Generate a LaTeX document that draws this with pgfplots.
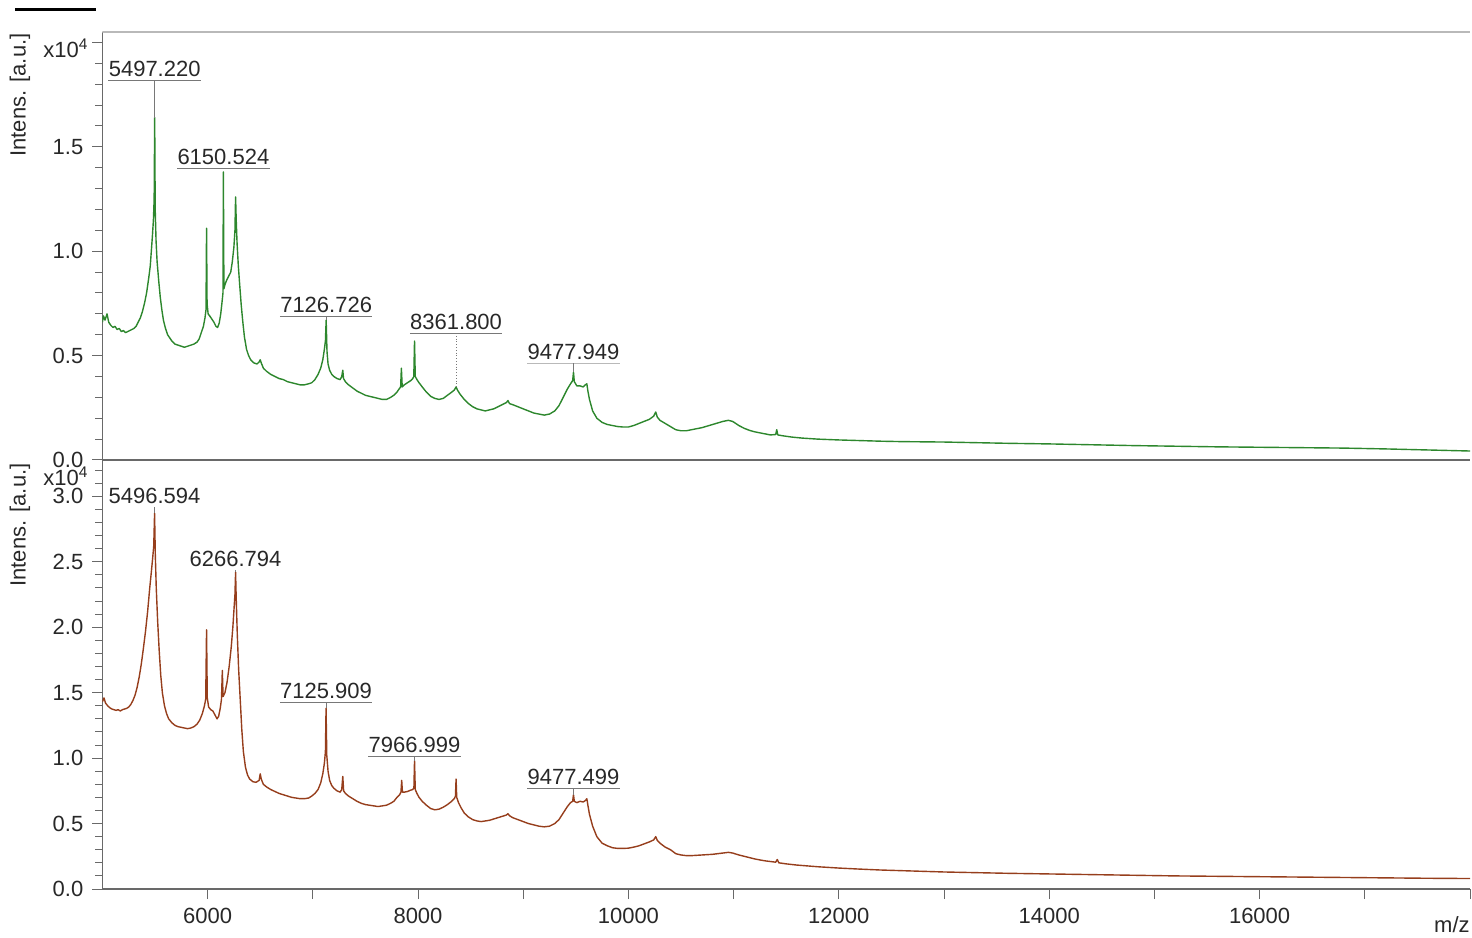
\documentclass[border=0pt]{standalone}
\usepackage{pgfplots}
\pgfplotsset{compat=1.18}
\usepackage{fontspec}
\setmainfont{Liberation Sans}

\definecolor{specgreen}{RGB}{45,135,45}
\definecolor{specbrown}{RGB}{150,62,28}
\definecolor{axisgrey}{RGB}{105,105,105}
\definecolor{framegrey}{RGB}{185,185,185}
\definecolor{leadgrey}{RGB}{120,120,120}
\definecolor{txt}{RGB}{40,40,40}
\newcommand\lbl{\fontsize{11}{13}\selectfont}

% spectrum of the first sample (intensity in units of 10^4)
\pgfplotstableread{
mz intens
5000 0.66
5010 0.69
5025 0.67
5044 0.70
5060 0.66
5080 0.645
5100 0.635
5120 0.64
5140 0.625
5160 0.63
5180 0.615
5200 0.62
5220 0.61
5240 0.615
5260 0.62
5280 0.625
5300 0.63
5320 0.64
5340 0.66
5360 0.68
5380 0.71
5400 0.75
5420 0.80
5440 0.87
5455 0.93
5465 1.00
5475 1.07
5485 1.15
5492 1.25
5497 1.64
5502 1.20
5510 1.05
5520 0.95
5535 0.86
5550 0.78
5565 0.72
5580 0.67
5600 0.63
5620 0.60
5640 0.585
5660 0.57
5690 0.555
5720 0.55
5750 0.545
5780 0.54
5810 0.545
5840 0.55
5870 0.555
5900 0.565
5920 0.58
5940 0.61
5960 0.64
5975 0.68
5985 0.72
5990 1.11
5995 0.75
6005 0.70
6020 0.69
6040 0.675
6060 0.66
6080 0.64
6095 0.635
6110 0.655
6125 0.70
6138 0.76
6146 0.80
6150 1.38
6155 0.82
6165 0.84
6180 0.86
6200 0.88
6220 0.90
6235 0.95
6250 1.02
6260 1.10
6266 1.26
6272 1.15
6280 1.04
6292 0.93
6305 0.84
6320 0.74
6335 0.66
6350 0.59
6370 0.53
6390 0.50
6410 0.48
6440 0.465
6470 0.46
6490 0.47
6500 0.48
6510 0.465
6530 0.44
6560 0.425
6600 0.41
6640 0.40
6680 0.39
6720 0.385
6760 0.375
6800 0.37
6840 0.365
6880 0.36
6920 0.36
6960 0.365
6990 0.37
7020 0.385
7050 0.41
7075 0.44
7095 0.48
7110 0.53
7120 0.57
7127 0.67
7135 0.52
7145 0.46
7160 0.43
7180 0.41
7200 0.40
7230 0.39
7260 0.385
7275 0.40
7285 0.43
7292 0.39
7310 0.375
7340 0.36
7380 0.345
7420 0.33
7460 0.32
7500 0.31
7540 0.305
7580 0.30
7620 0.295
7660 0.29
7700 0.29
7740 0.30
7770 0.31
7800 0.325
7820 0.34
7835 0.35
7842 0.44
7850 0.35
7870 0.36
7900 0.37
7930 0.38
7950 0.39
7960 0.40
7967 0.57
7974 0.40
7990 0.385
8010 0.37
8040 0.35
8080 0.325
8120 0.305
8160 0.295
8200 0.29
8240 0.295
8280 0.31
8320 0.325
8345 0.335
8362 0.35
8375 0.335
8400 0.315
8440 0.29
8480 0.27
8520 0.255
8560 0.245
8600 0.24
8640 0.235
8680 0.24
8720 0.245
8760 0.255
8800 0.265
8840 0.275
8855 0.285
8870 0.27
8900 0.265
8950 0.255
9000 0.245
9050 0.235
9100 0.225
9150 0.22
9200 0.215
9250 0.22
9300 0.235
9340 0.26
9380 0.30
9420 0.34
9450 0.365
9470 0.38
9478 0.42
9486 0.375
9510 0.355
9540 0.355
9570 0.35
9590 0.36
9605 0.365
9615 0.33
9630 0.29
9660 0.235
9700 0.20
9750 0.18
9800 0.17
9850 0.165
9900 0.16
9950 0.158
10000 0.158
10050 0.165
10100 0.175
10150 0.185
10200 0.195
10240 0.21
10260 0.23
10275 0.205
10300 0.19
10350 0.175
10400 0.16
10450 0.145
10500 0.14
10550 0.14
10600 0.145
10700 0.155
10800 0.17
10900 0.185
10950 0.19
10990 0.185
11050 0.165
11100 0.152
11150 0.142
11200 0.135
11250 0.13
11300 0.125
11350 0.12
11400 0.122
11410 0.145
11420 0.12
11480 0.115
11550 0.11
11650 0.105
11800 0.10
12000 0.096
12200 0.093
12400 0.09
12600 0.088
12800 0.087
13000 0.086
13300 0.083
13600 0.08
14000 0.077
14400 0.073
14800 0.069
15200 0.066
15600 0.063
16000 0.061
16400 0.059
16800 0.057
17200 0.053
17600 0.048
18000 0.043
}\specA

% spectrum of the second sample (intensity in units of 10^4)
\pgfplotstableread{
mz intens
5000 1.43
5015 1.46
5030 1.42
5050 1.40
5070 1.385
5090 1.375
5110 1.37
5130 1.365
5150 1.37
5170 1.36
5190 1.37
5210 1.375
5230 1.38
5250 1.39
5270 1.41
5290 1.44
5310 1.48
5330 1.54
5350 1.62
5370 1.72
5390 1.84
5410 1.97
5430 2.12
5450 2.30
5465 2.42
5478 2.53
5488 2.62
5496 2.87
5503 2.55
5512 2.30
5525 2.05
5540 1.82
5555 1.63
5570 1.50
5590 1.40
5610 1.34
5630 1.30
5660 1.27
5690 1.25
5720 1.24
5750 1.235
5780 1.23
5810 1.225
5840 1.23
5870 1.24
5900 1.26
5925 1.29
5950 1.34
5970 1.40
5982 1.45
5990 1.98
5997 1.46
6010 1.39
6030 1.37
6050 1.36
6070 1.33
6090 1.30
6105 1.32
6120 1.38
6132 1.45
6140 1.67
6147 1.47
6165 1.50
6185 1.58
6205 1.70
6225 1.85
6240 2.00
6252 2.15
6260 2.25
6266 2.42
6272 2.22
6282 1.95
6295 1.68
6310 1.45
6325 1.22
6340 1.05
6360 0.93
6380 0.87
6400 0.84
6430 0.82
6460 0.815
6490 0.83
6500 0.88
6510 0.84
6530 0.80
6560 0.78
6600 0.76
6640 0.745
6680 0.73
6720 0.72
6760 0.71
6800 0.70
6840 0.695
6880 0.69
6920 0.69
6960 0.695
6990 0.71
7020 0.73
7050 0.76
7075 0.81
7095 0.88
7110 0.96
7120 1.05
7126 1.38
7133 1.02
7145 0.90
7160 0.83
7180 0.79
7200 0.77
7230 0.75
7260 0.74
7275 0.76
7285 0.86
7293 0.75
7310 0.73
7340 0.71
7380 0.69
7420 0.67
7460 0.655
7500 0.645
7540 0.64
7580 0.635
7620 0.63
7660 0.635
7700 0.64
7740 0.655
7770 0.67
7800 0.70
7825 0.72
7838 0.74
7845 0.83
7852 0.74
7870 0.74
7900 0.745
7930 0.755
7950 0.76
7961 0.77
7967 0.98
7974 0.76
7990 0.73
8010 0.70
8040 0.67
8080 0.64
8120 0.615
8160 0.605
8200 0.61
8240 0.625
8280 0.645
8320 0.67
8345 0.69
8356 0.71
8362 0.84
8368 0.70
8385 0.66
8410 0.62
8440 0.58
8480 0.55
8520 0.53
8560 0.52
8600 0.515
8640 0.52
8680 0.525
8720 0.535
8760 0.545
8800 0.555
8840 0.565
8855 0.575
8870 0.56
8900 0.545
8950 0.53
9000 0.515
9050 0.50
9100 0.49
9150 0.48
9200 0.475
9250 0.48
9300 0.50
9340 0.53
9380 0.58
9420 0.63
9450 0.66
9470 0.67
9478 0.72
9486 0.67
9510 0.66
9540 0.67
9570 0.665
9590 0.675
9605 0.69
9615 0.64
9630 0.57
9660 0.48
9700 0.40
9750 0.35
9800 0.33
9850 0.315
9900 0.31
9950 0.31
10000 0.312
10050 0.32
10100 0.33
10150 0.345
10200 0.36
10240 0.375
10260 0.40
10275 0.37
10300 0.35
10350 0.32
10400 0.30
10450 0.27
10500 0.26
10550 0.255
10600 0.255
10700 0.26
10800 0.265
10900 0.275
10950 0.28
10990 0.275
11050 0.26
11100 0.25
11150 0.24
11200 0.23
11250 0.222
11300 0.215
11350 0.21
11400 0.205
11415 0.225
11430 0.2
11500 0.192
11600 0.183
11800 0.17
12000 0.16
12200 0.152
12400 0.145
12600 0.14
12800 0.135
13000 0.13
13300 0.125
13600 0.12
14000 0.115
14400 0.11
14800 0.105
15200 0.10
15600 0.097
16000 0.094
16400 0.091
16800 0.088
17200 0.085
17600 0.082
18000 0.08
}\specB

\pgfplotsset{
  panel/.style={
    scale only axis,
    width=683.8pt, height=214pt,
    xmin=5000, xmax=18000, ymin=0,
    separate axis lines,
    axis x line*=bottom, axis y line*=left,
    axis line style={axisgrey, line width=0.6pt},
    tick align=outside,
    major tick length=5pt, minor tick length=3.5pt,
    tick style={axisgrey, line width=0.5pt},
    every tick label/.append style={font=\lbl, text=txt},
    yticklabel style={xshift=-1pt},
  },
}
\tikzset{
  peaklabel/.style={anchor=south, inner xsep=0pt, inner ysep=1.6pt, font=\lbl, text=txt},
}

\begin{document}
\begin{tikzpicture}
\useasboundingbox (0,0) rectangle (736pt,468.5pt);
\draw[black, line width=1.5pt] (7.5pt,463.5pt) -- (48pt,463.5pt);

% upper panel
\begin{axis}[panel, at={(51.2pt,238.5pt)}, anchor=south west,
  ymax=2.05,
  xtick=\empty,
  x axis line style={axisgrey, line width=1.1pt},
  ytick={0,0.5,1,1.5,2}, yticklabels={0.0,0.5,1.0,1.5,},
  minor ytick={0.1,0.2,...,2.01},
]
\addplot[specgreen, line width=0.7pt, line join=round] table[x=mz, y=intens] {\specA};
\draw[framegrey, line width=1pt] (rel axis cs:0,1) -- (rel axis cs:1,1);
% peak annotations
\node[peaklabel] (p1) at (axis cs:5497,1.818) {5497.220};
\draw[leadgrey, line width=0.4pt] (p1.south west) -- (p1.south east);
\draw[leadgrey, line width=0.4pt] (axis cs:5497,1.818) -- (axis cs:5497,1.64);
\node[peaklabel] (p2) at (axis cs:6150,1.397) {6150.524};
\draw[leadgrey, line width=0.4pt] (p2.south west) -- (p2.south east);
\node[peaklabel] (p3) at (axis cs:7127,0.689) {7126.726};
\draw[leadgrey, line width=0.4pt] (p3.south west) -- (p3.south east);
\draw[leadgrey, line width=0.4pt] (axis cs:7127,0.689) -- (axis cs:7127,0.67);
\node[peaklabel] (p4) at (axis cs:8362,0.608) {8361.800};
\draw[leadgrey, line width=0.4pt] (p4.south west) -- (p4.south east);
\draw[leadgrey, line width=0.4pt, densely dotted] (axis cs:8362,0.608) -- (axis cs:8362,0.35);
\node[peaklabel] (p5) at (axis cs:9478,0.464) {9477.949};
\draw[framegrey, line width=0.3pt] (p5.south west) -- (p5.south east);
\draw[leadgrey, line width=0.4pt] (axis cs:9478,0.464) -- (axis cs:9478,0.42);
\end{axis}

% lower panel
\begin{axis}[panel, at={(51.2pt,24pt)}, anchor=south west,
  ymax=3.27,
  xtick={6000,7000,...,18000},
  xticklabels={6000,{},8000,{},10000,{},12000,{},14000,{},16000,{},{}},
  xticklabel style={yshift=-1pt},
  ytick={0,0.5,...,3.0}, yticklabels={0.0,0.5,1.0,1.5,2.0,2.5,3.0},
  minor ytick={0.1,0.2,...,3.21},
]
\addplot[specbrown, line width=0.7pt, line join=round] table[x=mz, y=intens] {\specB};
% peak annotations
\node[peaklabel] (q1) at (axis cs:5496,2.916) {5496.594};
\draw[leadgrey, line width=0.4pt] (axis cs:5496,2.916) -- (axis cs:5496,2.87);
\node[peaklabel] (q2) at (axis cs:6266,2.435) {6266.794};
\draw[leadgrey, line width=0.4pt] (axis cs:6266,2.435) -- (axis cs:6266,2.42);
\node[peaklabel] (q3) at (axis cs:7126,1.427) {7125.909};
\draw[leadgrey, line width=0.4pt] (q3.south west) -- (q3.south east);
\draw[leadgrey, line width=0.4pt] (axis cs:7126,1.427) -- (axis cs:7126,1.38);
\node[peaklabel] (q4) at (axis cs:7967,1.015) {7966.999};
\draw[leadgrey, line width=0.4pt] (q4.south west) -- (q4.south east);
\draw[leadgrey, line width=0.4pt] (axis cs:7967,1.015) -- (axis cs:7967,0.98);
\node[peaklabel] (q5) at (axis cs:9478,0.771) {9477.499};
\draw[leadgrey, line width=0.4pt] (q5.south west) -- (q5.south east);
\draw[leadgrey, line width=0.4pt] (axis cs:9478,0.771) -- (axis cs:9478,0.72);
\end{axis}

% axis titles and scale factors
\node[rotate=90, font=\lbl, text=txt] at (10pt,421pt) {Intens. [a.u.]};
\node[rotate=90, font=\lbl, text=txt] at (10pt,206pt) {Intens. [a.u.]};
\node[anchor=west, font=\lbl, text=txt, inner sep=0pt] at (21.5pt,444.5pt) {x10\textsuperscript{4}};
\node[anchor=west, font=\lbl, text=txt, inner sep=0pt] at (21.5pt,230.5pt) {x10\textsuperscript{4}};
\node[anchor=east, font=\lbl, text=txt, inner sep=0pt] at (735pt,6pt) {m/z};
\end{tikzpicture}
\end{document}
